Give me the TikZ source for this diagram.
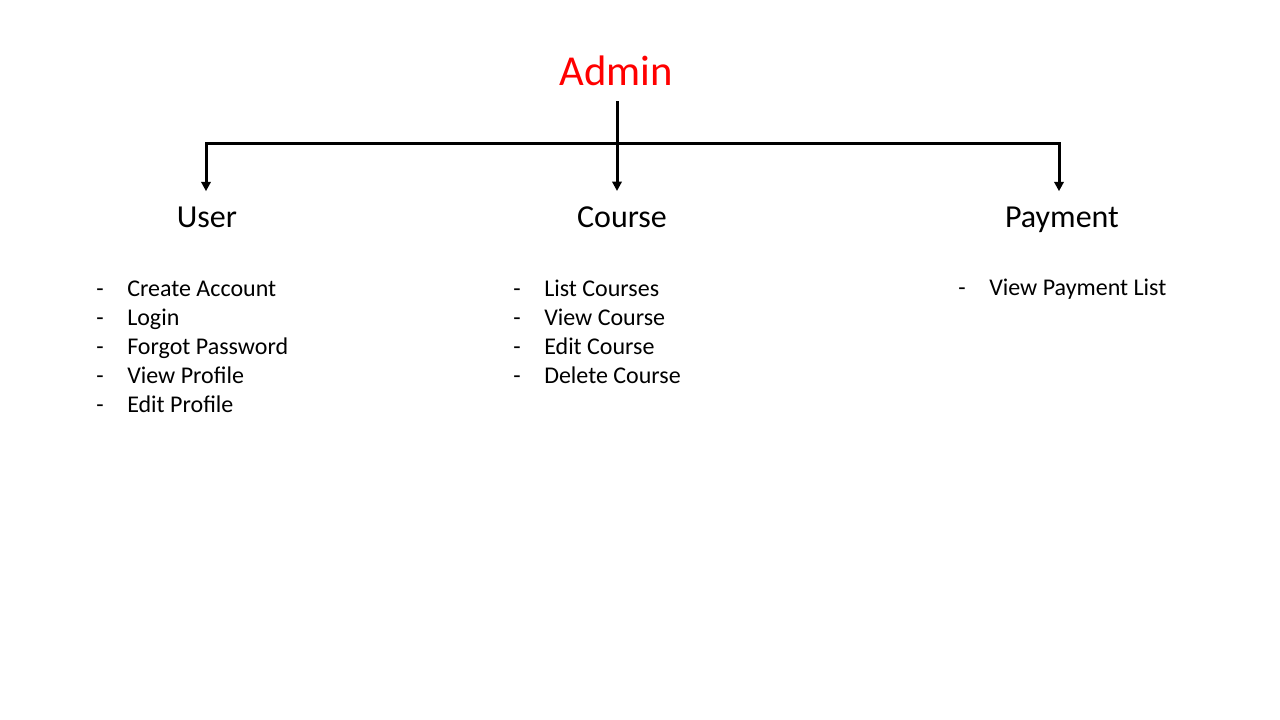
\documentclass[tikz,border=0pt]{standalone}
\usepackage{fontspec}
\setmainfont{Carlito}
\usepackage{tikz}
\usetikzlibrary{arrows.meta}
\tikzstyle{title} = [font=\fontsize{32}{38}\selectfont, text=red, inner sep=0pt, anchor=base]
\tikzstyle{head} = [font=\fontsize{24}{29}\selectfont, inner sep=0pt, anchor=base]
\tikzstyle{hyphen} = [font=\fontsize{18}{22}\selectfont, inner sep=0pt, anchor=base]
\tikzstyle{entry} = [font=\fontsize{18}{22}\selectfont, inner sep=0pt, anchor=base west]
\tikzstyle{wire} = [line width=2.25pt]
\tikzstyle{branch} = [wire, -{Triangle[width=7pt,length=7pt]}, shorten >=12pt]

\begin{document}
\begin{tikzpicture}[x=0.75pt,y=-0.75pt]
      \useasboundingbox (0,0) rectangle (1280,720);
      \node[title] (admin)   at (616,86)  {Admin};
      \node[head]  (user)    at (207,228) {User};
      \node[head]  (course)  at (622,228) {Course};
      \node[head]  (payment) at (1062,228) {Payment};
      \coordinate (split) at (617,144);
      \draw[wire, shorten <=11pt] (admin.south -| split) -- (split);
      \draw[branch] (split) -| ([xshift=-0.75pt]user.north);
      \draw[branch] (split) -- (split |- course.north);
      \draw[branch] (split) -| ([xshift=-2.25pt]payment.north);
      % user list
      \foreach \txt [count=\i] in {Create Account, Login, Forgot Password, View Profile, Edit Profile} {
        \node[hyphen] (userdash\i) at (100,267+29*\i) {-};
        \node[entry]  (useritem\i) at (127,267+29*\i) {\txt};
      }
      % course list
      \foreach \txt [count=\i] in {List Courses, View Course, Edit Course, Delete Course} {
        \node[hyphen] (coursedash\i) at (517,267+29*\i) {-};
        \node[entry]  (courseitem\i) at (544,267+29*\i) {\txt};
      }
      % payment list
      \node[hyphen] (paydash1) at (962,295) {-};
      \node[entry]  (payitem1) at (989,295) {View Payment List};
    \end{tikzpicture}
\end{document}
